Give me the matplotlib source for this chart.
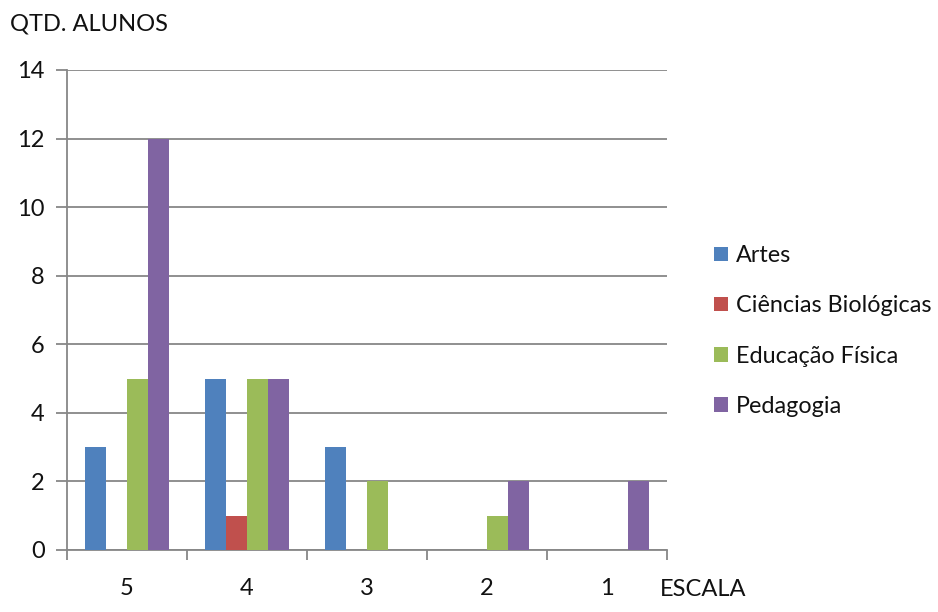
import matplotlib
matplotlib.use("Agg")
import matplotlib.pyplot as plt
import numpy as np
from matplotlib.patches import Patch

plt.rcParams['font.family'] = ['Lato', 'DejaVu Sans']

categories = ["5", "4", "3", "2", "1"]
series_names = ["Artes", "Ciências Biológicas", "Educação Física", "Pedagogia"]
artes = [3, 5, 3, 0, 0]
ciencias = [0, 1, 0, 0, 0]
educacao = [5, 5, 2, 1, 0]
pedagogia = [12, 5, 0, 2, 2]
yticks = [0, 2, 4, 6, 8, 10, 12, 14]

colors = ["#4F81BD", "#C0504D", "#9BBB59", "#8064A2"]
grid_color = "#878787"
text_color = "#111111"
fs = 17

fig = plt.figure(figsize=(9.38, 6.12), dpi=100)
ax = fig.add_axes([67/938, 1 - 550/612, 600/938, 480/612])

x = np.arange(len(categories))
w = 0.175
for i, (vals, col) in enumerate(zip([artes, ciencias, educacao, pedagogia], colors)):
    ax.bar(x + (i - 1.5) * w, vals, width=w, color=col, zorder=3, linewidth=0)

ax.set_xlim(-0.5, len(categories) - 0.5)
ax.set_ylim(0, 14)
ax.set_yticks(yticks)
ax.set_yticklabels([str(t) for t in yticks], fontsize=fs, color=text_color)
ax.yaxis.grid(True, color=grid_color, linewidth=1.3, zorder=0)

# category boundaries carry the tick marks; centres carry the labels
ax.set_xticks(np.arange(len(categories) + 1) - 0.5)
ax.set_xticklabels([])
ax.set_xticks(x, minor=True)
ax.set_xticklabels(categories, minor=True, fontsize=fs, color=text_color)
ax.tick_params(axis="x", which="major", length=7, width=1.3, color=grid_color, direction="out")
ax.tick_params(axis="x", which="minor", length=0, pad=20)
ax.tick_params(axis="y", length=8, width=1.3, color=grid_color, pad=8)

for s in ["top", "right"]:
    ax.spines[s].set_visible(False)
for s in ["left", "bottom"]:
    ax.spines[s].set_color(grid_color)
    ax.spines[s].set_linewidth(1.3)

fig.text(10/938, 1 - 24/612, "QTD. ALUNOS", fontsize=fs, color=text_color, va="center", ha="left")
fig.text(660/938, 1 - 590/612, "ESCALA", fontsize=fs, color=text_color, va="center", ha="left")

handles = [Patch(facecolor=c, edgecolor="none") for c in colors]
fig.legend(handles, series_names, loc="center left",
           bbox_to_anchor=(693/938, 1 - 331/612), frameon=False,
           fontsize=16.8, handlelength=0.58, handleheight=0.58,
           handletextpad=0.35, labelspacing=1.25, labelcolor=text_color)

fig.savefig("out.png", dpi=100)
